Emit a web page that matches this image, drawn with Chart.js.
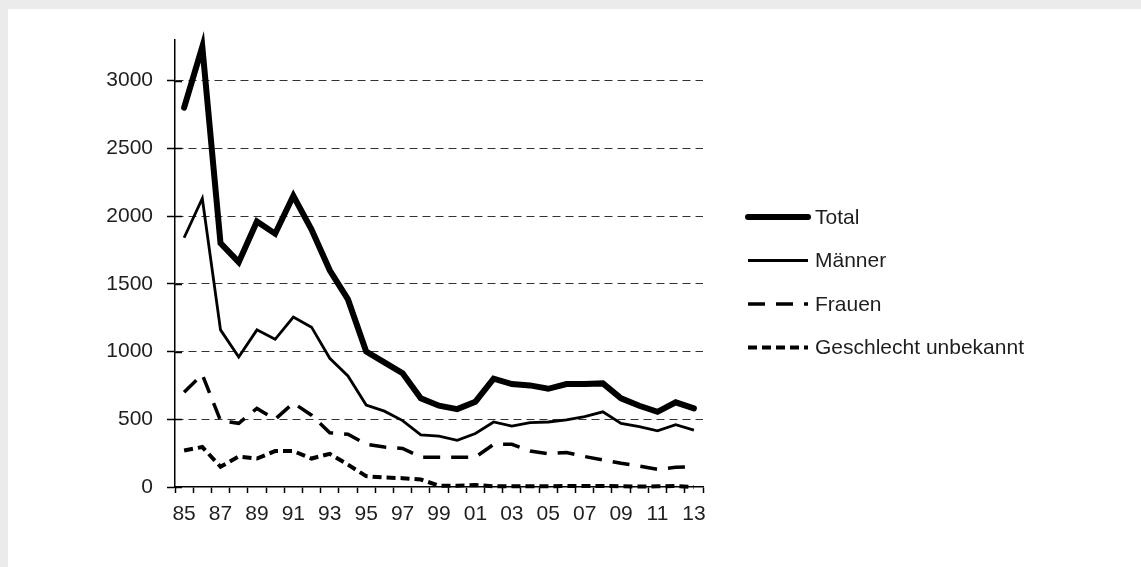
<!DOCTYPE html>
<html>
<head>
<meta charset="utf-8">
<script src="https://cdn.jsdelivr.net/npm/chart.js@4"></script>
<style>
  html, body { margin: 0; padding: 0; background: #ebebeb; }
  #panel { position: absolute; left: 8px; top: 9px; right: 0; bottom: 0; background: #fff; }
  #wrap { position: absolute; left: 0; top: 0; width: 1141px; height: 567px; }
</style>
</head>
<body>
<div id="panel"></div>
<div id="wrap"><canvas id="Chart" width="1141" height="567"></canvas></div>
<script>
'use strict';
// jahre (tick labels)
const jahre = ['85','86','87','88','89','90','91','92','93','94','95','96','97','98','99',
               '00','01','02','03','04','05','06','07','08','09','10','11','12','13'];
// werte der reihen
const total = [2800,3250,1800,1660,1960,1870,2150,1900,1600,1385,1000,920,840,655,600,
               575,630,800,760,750,725,760,760,765,655,600,555,625,580];
const maenner = [1840,2130,1160,960,1160,1090,1255,1180,950,820,605,560,490,385,375,
                 345,395,480,450,475,480,495,520,555,470,445,415,460,420];
const frauen = [700,830,490,470,580,500,620,530,400,390,315,295,285,220,220,
                220,220,315,315,265,245,255,225,200,175,155,130,145,150];
const unbekannt = [270,295,150,225,210,265,265,210,245,165,80,70,65,55,10,
                   10,15,5,5,5,5,8,8,8,5,3,5,8,0];
const yTicks = [0,500,1000,1500,2000,2500,3000];

const schrift = '"Liberation Sans", Arial, sans-serif';
const textFarbe = '#1e1e1e';

//legende und kurze striche rechts der y-achse selbst zeichnen
const legendePlugin = {
    id: 'legende',
    afterDraw(chart) {
        const ctx = chart.ctx;
        const yScale = chart.scales.y;
        ctx.save();
        ctx.strokeStyle = '#000';
        ctx.lineWidth = 1.5;
        yTicks.forEach(v => {
            const py = Math.round(yScale.getPixelForValue(v)) + 0.5;
            ctx.beginPath();
            ctx.moveTo(yScale.right, py);
            ctx.lineTo(yScale.right + 7, py);
            ctx.stroke();
        });
        ctx.restore();

        const x0 = 748, x1 = 808, yStart = 217, abstand = 43.5;
        chart.data.datasets.forEach((ds, i) => {
            const y = yStart + i * abstand;
            ctx.save();
            ctx.strokeStyle = ds.borderColor;
            ctx.lineWidth = ds.borderWidth;
            ctx.lineCap = ds.borderCapStyle || 'butt';
            ctx.setLineDash(ds.borderDash || []);
            ctx.beginPath();
            ctx.moveTo(x0, y);
            ctx.lineTo(x1, y);
            ctx.stroke();
            ctx.restore();
            ctx.save();
            ctx.fillStyle = textFarbe;
            ctx.font = '21px ' + schrift;
            ctx.textBaseline = 'middle';
            ctx.fillText(ds.label, 815, y + 1);
            ctx.restore();
        });
    }
};

const ctx = document.getElementById('Chart').getContext('2d');
new Chart(ctx, {
    type: 'line',
    data: {
        labels: jahre,
        datasets: [
            { label: 'Total', data: total, borderColor: '#000', borderWidth: 6, borderCapStyle: 'round', borderJoinStyle: 'miter', clip: 12 },
            { label: 'Männer', data: maenner, borderColor: '#000', borderWidth: 2.8, borderJoinStyle: 'miter', clip: 12 },
            { label: 'Frauen', data: frauen, borderColor: '#000', borderWidth: 3.5, borderDash: [17, 11], clip: 12 },
            { label: 'Geschlecht unbekannt', data: unbekannt, borderColor: '#000', borderWidth: 4, borderDash: [9, 5], clip: 12 }
        ]
    },
    options: {
        responsive: false,
        animation: false,
        elements: { point: { radius: 0 }, line: { tension: 0, fill: false } },
        layout: { padding: { top: 40, right: 438, left: 0, bottom: 0 } },
        plugins: { legend: { display: false }, tooltip: { enabled: false } },
        scales: {
            x: {
                offset: true,
                afterFit: s => { s.height = 80; },
                grid: { offset: true, drawOnChartArea: false, drawTicks: true, tickLength: 6, tickColor: '#000', tickWidth: 1.5 },
                border: { color: '#000', width: 1.5 },
                ticks: {
                    autoSkip: false, maxRotation: 0, padding: 9, color: textFarbe,
                    font: { family: schrift, size: 21 },
                    callback: function (val, i) { return i % 2 ? '' : this.getLabelForValue(val); }
                }
            },
            y: {
                min: 0, max: 3300,
                afterFit: s => { s.width = 175; },
                afterBuildTicks: s => { s.ticks = yTicks.map(v => ({ value: v })); },
                grid: {
                    color: c => c.tick && c.tick.value === 0 ? 'rgba(0,0,0,0)' : '#333',
                    lineWidth: 1, tickLength: 8, tickColor: '#000', tickWidth: 1.5,
                    tickBorderDash: []
                },
                border: { color: '#000', width: 1.5, dash: [8, 5] },
                ticks: {
                    padding: 14, color: textFarbe, font: { family: schrift, size: 21 },
                    callback: v => String(v)
                }
            }
        }
    },
    plugins: [legendePlugin]
});
</script>
</body>
</html>
